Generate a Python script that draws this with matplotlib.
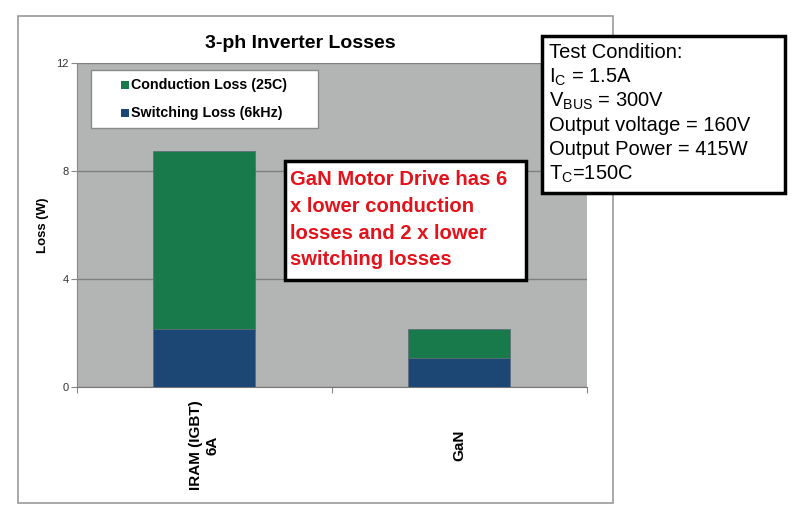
import numpy as np
import matplotlib
matplotlib.use("Agg")
import matplotlib.pyplot as plt
from matplotlib.patches import Rectangle

plt.rcParams['font.family'] = ['Liberation Sans', 'DejaVu Sans']
plt.rcParams['mathtext.fontset'] = 'custom'
plt.rcParams['mathtext.rm'] = 'Liberation Sans'
plt.rcParams['mathtext.it'] = 'Liberation Sans'

# data
categories = ['IRAM (IGBT)\n6A', 'GaN']
switching = [2.15, 1.07]
conduction = [6.59, 1.08]
series_labels = ['Conduction Loss (25C)', 'Switching Loss (6kHz)']
yticks = [0, 4, 8, 12]
conditions = ['Test Condition:',
              r'I$_\mathregular{C}$ = 1.5A',
              r'V$_\mathregular{BUS}$ = 300V',
              'Output voltage = 160V',
              'Output Power = 415W',
              r'T$_\mathregular{C}$=150C']
note = 'GaN Motor Drive has 6\nx lower conduction\nlosses and 2 x lower\nswitching losses'

GREEN = '#187A4A'
BLUE = '#1C4674'
BG = '#B2B5B3'

W, H = 800, 518


def fx(x):
    return x / W


def fy(y):
    return 1 - y / H


fig = plt.figure(figsize=(8, 5.18), dpi=100)

# outer chart frame
fig.patches.append(Rectangle((fx(18), fy(503)), fx(613) - fx(18), fy(16) - fy(503),
                             transform=fig.transFigure, fc='white', ec='#9a9a9a', lw=1.2, zorder=-1))

ax = fig.add_axes([fx(77), fy(387), fx(587) - fx(77), fy(63) - fy(387)])
ax.set_facecolor(BG)
x = np.arange(len(categories))
ax.bar(x, switching, width=0.4, color=BLUE, edgecolor='#5a6a78', lw=0.5, zorder=3)
ax.bar(x, conduction, bottom=switching, width=0.4, color=GREEN, edgecolor='#5a6a78', lw=0.5, zorder=3)
ax.set_xlim(-0.5, 1.5)
ax.set_ylim(0, 12)
ax.set_yticks(yticks)
ax.set_yticklabels([str(t) for t in yticks], fontsize=8, color='#333333')
ax.set_xticks([-0.5, 0.5, 1.5])
ax.set_xticklabels([])
ax.set_xticks(x, minor=True)
ax.set_xticklabels(categories, minor=True, rotation=90, fontsize=11, fontweight='bold',
                   multialignment='center', va='center')
ax.tick_params(axis='x', which='minor', length=0, pad=42)
ax.tick_params(axis='x', which='major', length=4, color='#888888')
ax.tick_params(axis='y', length=4, color='#888888', pad=2)
ax.grid(axis='y', color='#7f7f7f', lw=1, zorder=1)
for s in ['top', 'right']:
    ax.spines[s].set_visible(False)
ax.spines['left'].set_color('#888888')
ax.spines['bottom'].set_color('#777777')
ax.set_ylabel('Loss (W)', fontsize=9.5, fontweight='bold', labelpad=5)

fig.text(fx(300), fy(43), '3-ph Inverter Losses', fontsize=14, fontweight='bold',
         ha='center', va='center')

# legend box
fig.patches.append(Rectangle((fx(91), fy(128)), fx(318) - fx(91), fy(70) - fy(128),
                             transform=fig.transFigure, fc='white', ec='#8a8a8a', lw=1, zorder=5))
for lab, col, yy in zip(series_labels, [GREEN, BLUE], [85, 113]):
    fig.patches.append(Rectangle((fx(121), fy(yy + 4)), fx(8), fy(0) - fy(8),
                                 transform=fig.transFigure, fc=col, ec='none', zorder=6))
    fig.text(fx(131), fy(yy), lab, fontsize=10.3, fontweight='bold', ha='left', va='center', zorder=6)

# red note box
fig.patches.append(Rectangle((fx(285), fy(280)), fx(526) - fx(285), fy(161) - fy(280),
                             transform=fig.transFigure, fc='white', ec='black', lw=2.5, zorder=5))
fig.text(fx(290), fy(170), note, fontsize=14.6, fontweight='bold', color='#E3121B',
         ha='left', va='top', linespacing=1.52, zorder=6)

# test condition box
fig.patches.append(Rectangle((fx(542), fy(193)), fx(785) - fx(542), fy(36) - fy(193),
                             transform=fig.transFigure, fc='white', ec='black', lw=2.5, zorder=5))
for i, line in enumerate(conditions):
    fig.text(fx(549), fy(53 + i * 24.2), line, fontsize=14.5, ha='left', va='center', zorder=6)

fig.savefig('out.png', dpi=100)
